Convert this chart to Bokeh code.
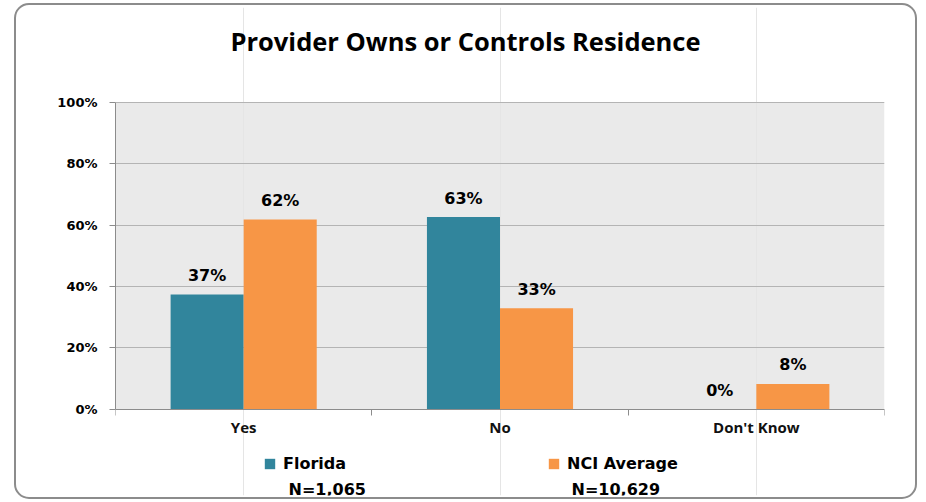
from bokeh.plotting import figure
from bokeh.models import (FactorRange, Range1d, LinearAxis, FixedTicker, BoxAnnotation,
                          ColumnDataSource, Legend, LegendItem, Label)
from bokeh.transform import dodge
from bokeh.core.properties import value
from bokeh.embed import file_html
from bokeh.resources import INLINE

# ---------------- data ----------------
title = "Provider Owns or Controls Residence"
categories = ["Yes", "No", "Don't Know"]
florida = [37.4, 62.6, 0.0]
nci_average = [61.8, 32.9, 8.3]
series_names = ["Florida", "NCI Average"]
sample_sizes = ["N=1,065", "N=10,629"]
y_ticks = [0, 20, 40, 60, 80, 100]
y_tick_labels = ["0%", "20%", "40%", "60%", "80%", "100%"]

TEAL = "#31859C"
ORANGE = "#F79646"
BAR_W = 0.285

src = ColumnDataSource(dict(
    cat=categories,
    florida=florida,
    nci=nci_average,
    florida_lbl=[f"{round(v)}%" for v in florida],
    nci_lbl=[f"{round(v)}%" for v in nci_average],
))

# The frame spans the whole chart box (title and legend live inside it);
# the value axis runs 0-100 and the view is extended above/below for them.
p = figure(frame_width=769, frame_height=488,
           x_range=FactorRange(factors=categories, range_padding=0),
           y_range=Range1d(-28.0, 130.8),
           x_axis_location=None, title_location=None,
           output_backend="svg", toolbar_location=None,
           min_border_left=99, min_border_right=31,
           min_border_top=2, min_border_bottom=2)

p.styles = {"margin-left": "14px", "margin-top": "3px",
            "border": "2px solid #8C8C8C", "border-radius": "15px"}

p.background_fill_color = "white"
p.border_fill_color = None
p.outline_line_color = None

# grey plot area (0% .. 100%)
p.add_layout(BoxAnnotation(bottom=y_ticks[0], top=y_ticks[-1], fill_color="#EAEAEA",
                           fill_alpha=1.0, line_alpha=0, level="image"))

r1 = p.vbar(x=dodge("cat", -BAR_W / 2, range=p.x_range), top="florida", width=BAR_W,
            source=src, fill_color=TEAL, line_color=None)
r2 = p.vbar(x=dodge("cat", BAR_W / 2, range=p.x_range), top="nci", width=BAR_W,
            source=src, fill_color=ORANGE, line_color=None)

lbl_kw = dict(text_align="center", text_baseline="alphabetic", y_offset=-19,
              text_font=value("DejaVu Sans"), text_font_style="bold",
              text_font_size="16px", text_color="#000000", source=src)
p.text(x=dodge("cat", -BAR_W / 2, range=p.x_range), y="florida", text="florida_lbl", **lbl_kw)
p.text(x=dodge("cat", BAR_W / 2, range=p.x_range), y="nci", text="nci_lbl", **lbl_kw)

# y axis
ya = p.yaxis[0]
ya.ticker = FixedTicker(ticks=y_ticks)
ya.bounds = (y_ticks[0], y_ticks[-1])
ya.major_label_overrides = dict(zip(y_ticks, y_tick_labels))
ya.axis_line_color = "#8C8C8C"
ya.major_tick_line_color = "#8C8C8C"
ya.major_tick_in = 0
ya.major_tick_out = 6
ya.minor_tick_line_color = None
ya.major_label_standoff = 12
ya.major_label_text_font = "DejaVu Sans"
ya.major_label_text_font_style = "bold"
ya.major_label_text_font_size = "13px"
ya.major_label_text_color = "#000000"
p.ygrid.grid_line_color = "#B4B4B4"

# x axis at 0%: labels at category centres, tick marks at category boundaries
# (factor i sits at synthetic coordinate i + 0.5 on the FactorRange)
n = len(categories)
xa = LinearAxis(ticker=FixedTicker(ticks=[i + 0.5 for i in range(n)],
                                   minor_ticks=list(range(n + 1))),
                major_label_overrides={i + 0.5: c for i, c in enumerate(categories)},
                fixed_location=y_ticks[0],
                major_tick_line_color=None, major_tick_in=0, major_tick_out=0,
                minor_tick_in=0, minor_tick_out=6, minor_tick_line_color="#8C8C8C",
                axis_line_color="#8C8C8C",
                major_label_standoff=2,
                major_label_text_font="Open Sans", major_label_text_font_style="bold",
                major_label_text_font_size="15px", major_label_text_color="#111111")
p.add_layout(xa, "below")

# title (screen units, relative to the frame's bottom-left corner)
p.add_layout(Label(x=350, y=455, x_units="screen", y_units="screen", text=title,
                   text_align="center", text_baseline="alphabetic",
                   text_font="Open Sans", text_font_style="bold", text_font_size="25.5px",
                   text_color="#000000"))

# legend with swatches
legend = Legend(items=[LegendItem(label=value(s), renderers=[r])
                       for s, r in zip(series_names, [r1, r2])],
                orientation="horizontal", location=(148, 22),
                padding=0, margin=0, border_line_color=None, background_fill_alpha=0,
                glyph_width=13, glyph_height=13, label_standoff=7, label_height=20,
                label_text_font="DejaVu Sans", label_text_font_style="bold",
                label_text_font_size="16px", label_text_color="#000000", spacing=201)
p.add_layout(legend)

# sample sizes under the legend entries
for xpos, txt in zip([173, 456], sample_sizes):
    p.add_layout(Label(x=xpos, y=6, x_units="screen", y_units="screen", text=txt,
                       text_align="left", text_baseline="alphabetic",
                       text_font="DejaVu Sans", text_font_style="bold",
                       text_font_size="16px", text_color="#000000"))

open("out.html", "w").write(file_html(p, INLINE))
